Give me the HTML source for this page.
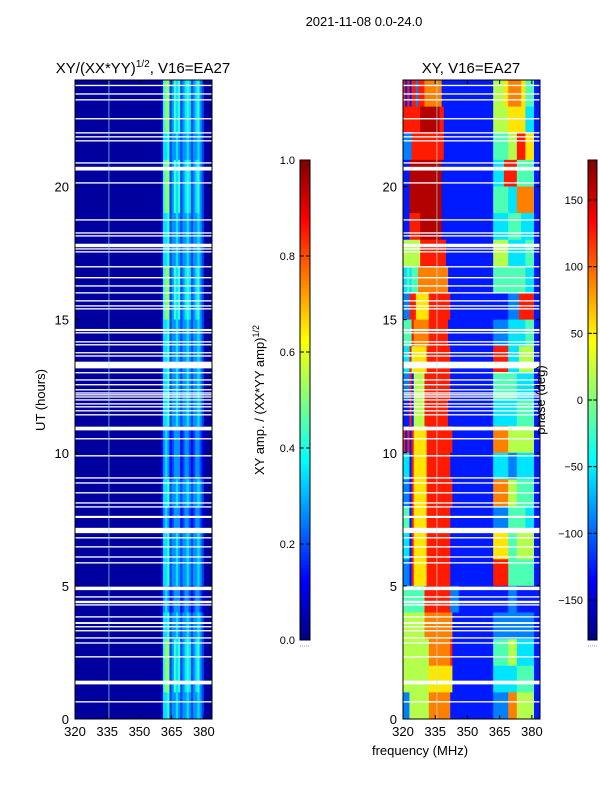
<!DOCTYPE html>
<html><head><meta charset="utf-8">
<style>
body{margin:0;background:#fff;}
svg{display:block;font-family:"Liberation Sans",sans-serif;}
</style></head>
<body>
<svg id="fig" width="600" height="800" viewBox="0 0 600 800" xmlns="http://www.w3.org/2000/svg">
<rect width="600" height="800" fill="#fff"/>
<text x="364" y="26" font-size="13" text-anchor="middle">2021-11-08 0.0-24.0</text>
<text x="143" y="73" font-size="15" text-anchor="middle">XY/(XX*YY)<tspan font-size="10" dy="-6">1/2</tspan><tspan dy="6">, V16=EA27</tspan></text>
<text x="471" y="73" font-size="15" text-anchor="middle">XY, V16=EA27</text>
<g id="leftMap"></g>
<g id="rightMap"></g>
<g id="axes"></g>
<text transform="translate(45,400) rotate(-90)" font-size="13" text-anchor="middle">UT (hours)</text>
<text x="420" y="755" font-size="13" text-anchor="middle">frequency (MHz)</text>
<text transform="translate(264,400) rotate(-90)" font-size="13" text-anchor="middle">XY amp. / (XX*YY amp)<tspan font-size="9" dy="-5">1/2</tspan></text>
<text transform="translate(545,400) rotate(-90)" font-size="13" text-anchor="middle">phase (deg)</text>
</svg>
<script>
// ---- data ----
const hours = [23,22,21,20,19,18,17,16,15,14,13,12,11,10,9,8,7,6,5,4,3,2,1,0];
const freqStart = 320;      // MHz, first 1-MHz channel
const freqEnd = 383.8;
const xTicks = [320,335,350,365,380];
const yTicks = [0,5,10,15,20];
const ampTicks = ["0.0","0.2","0.4","0.6","0.8","1.0"];
const phaseTicks = [-150,-100,-50,0,50,100,150];
// amplitude rows, digit d -> 0.03+0.08*d, one char per 1 MHz channel
const ampRows = [
"0000000000000000000000000000000000000000156623545234542345320000",
"0000000000000000000000000000000000000000156623545234542345320000",
"0000000000000000000000000000000000000000144523343233432334320000",
"0000000000000000000000000000000000000000156623545234542345320000",
"0000000000000000000000000000000000000000156623545234542345320000",
"0000000000000000000000000000000000000000144523343233432334320000",
"0000000000000000000000000000000000000000144523343233432334320000",
"0000000000000000000000000000000000000000156623545234542345320000",
"0000000000000000000000000000000000000000156623545234542345320000",
"0000000000000000000000000000000000000000144523343233432334320000",
"0000000000000000000000000000000000000000144523343233432334320000",
"0000000000000000000000000000000000000000144523343233432334320000",
"0000000000000000000000000000000000000000144523343233432334320000",
"0000000000000000000000000000000000000000134312333123321233210000",
"0000000000000000000000000000000000000000134312333123321233210000",
"0000000000000000000000000000000000000000144523343233432334320000",
"0000000000000000000000000000000000000000134312333123321233210000",
"0000000000000000000000000000000000000000144523343233432334320000",
"0000000000000000000000000000000000000000144523343233432334320000",
"0000000000000000000000000000000000000000134312333123321233210000",
"0000000000000000000000000000000000000000144523343233432334320000",
"0000000000000000000000000000000000000000156623545234542345320000",
"0000000000000000000000000000000000000000156623545234542345320000",
"0000000000000000000000000000000000000000144523343233432334320000"
];
// phase rows, digit d -> -162+36*d deg
const phaseRows = [
"81818828"+"887777"+"777711111111"+"1111111111111111"+"5555566"+"77777766"+"4444"+"111",
"88888888"+"999999"+"999881111111"+"1111111111111111"+"5555555"+"66666666"+"3333"+"111",
"22228888"+"888888"+"888881111111"+"1111111111111111"+"4444444"+"55558888"+"6666"+"111",
"11199999"+"999999"+"999911111111"+"1111111111111111"+"3333388"+"88884444"+"4444"+"111",
"11199999"+"999999"+"999911111111"+"1111111111111111"+"4444444"+"33337777"+"7777"+"111",
"11188888"+"999999"+"999911111111"+"1111111111111111"+"3333333"+"44444433"+"3333"+"111",
"55555555"+"888888"+"888888111111"+"1111111111111111"+"5555555"+"33333333"+"4444"+"111",
"33434447"+"777777"+"777777711111"+"1111111111111111"+"4444444"+"44444444"+"3333"+"111",
"22288866"+"666688"+"888888881111"+"1111111111111111"+"1111111"+"22222888"+"8888"+"111",
"44448777"+"777788"+"888888811111"+"1111111111111111"+"2222222"+"33333333"+"4444"+"111",
"33385666"+"666888"+"888888881111"+"1111111111111111"+"8888888"+"33333555"+"5555"+"111",
"22281555"+"558888"+"888888881111"+"1111111111111111"+"4444444"+"44443333"+"3333"+"111",
"11181555"+"558888"+"888888811111"+"1111111111111111"+"3333333"+"33334444"+"4444"+"111",
"81818666"+"666888"+"888888888111"+"1111111111111111"+"7777777"+"55555555"+"5555"+"111",
"33318666"+"666888"+"888888881111"+"1111111111111111"+"3333333"+"22223333"+"3333"+"111",
"22218666"+"666888"+"888888888111"+"1111111111111111"+"7777777"+"55554444"+"4444"+"111",
"44418666"+"666888"+"888888881111"+"1111111111111111"+"2222222"+"44444444"+"3333"+"111",
"33318666"+"666888"+"888888881111"+"1111111111111111"+"6666666"+"44445555"+"5555"+"111",
"22218666"+"666888"+"888888881111"+"1111111111111111"+"8888888"+"44444444"+"4444"+"111",
"44444444"+"448888"+"888888882222"+"1111111111111111"+"1111111"+"22221111"+"1111"+"111",
"55555555"+"557777"+"777777777111"+"1111111111111111"+"2222222"+"22222222"+"2222"+"111",
"55555555"+"555577"+"777777778111"+"1111111111111111"+"4444444"+"55553333"+"3333"+"111",
"55555555"+"555566"+"666666666111"+"1111111111111111"+"3333333"+"33334444"+"4444"+"111",
"22255555"+"555577"+"777777771111"+"1111111111111111"+"2222222"+"77775555"+"5555"+"111"
];
// flagged (blank) time ranges, hours [start, end]
const gaps = [
[23.77,23.82],[23.45,23.5],[23.23,23.28],[22.52,22.57],[21.99,22.04],[21.84,21.89],[21.69,21.74],
[20.86,20.91],[20.6,20.74],[20.11,20.16],[18.72,18.77],[18.23,18.28],[18.12,18.17],[17.72,17.85],
[17.63,17.68],[17.52,17.57],[16.96,17.01],[16.55,16.6],[16.24,16.29],[15.98,16.03],[15.68,15.73],
[15.49,15.54],[15.38,15.43],[14.57,14.65],[14.48,14.53],[14.14,14.19],[14.03,14.08],[13.73,13.78],
[13.61,13.66],[13.17,13.42],[12.98,13.03],[12.71,12.76],[12.53,12.58],[12.34,12.39],[12.22,12.27],
[12.07,12.12],[12.15,12.2],[11.96,12.01],[11.81,11.86],[11.7,11.75],[11.55,11.6],[11.4,11.45],
[10.84,10.98],[10.5,10.55],[9.86,9.91],[9.03,9.08],[8.84,8.89],[8.47,8.52],[8.09,8.14],[7.94,7.99],
[7.55,7.63],[6.98,7.18],[6.78,6.83],[6.44,6.49],[6.06,6.11],[5.84,5.89],[4.84,4.97],[4.56,4.61],
[4.35,4.44],[4.26,4.31],[3.81,3.86],[3.57,3.64],[3.44,3.49],[3.29,3.34],[3.02,3.07],[2.83,2.88],
[2.31,2.36],[1.3,1.44],[0.62,0.67]
];

// ---- scales ----
const Y0=719, Y1=80, HMAX=24;
function yScale(h){ return Y0-(h/HMAX)*(Y0-Y1); }
function makeX(left,right){ return f => left+(f-freqStart)/(freqEnd-freqStart)*(right-left); }
const xL = makeX(75,212), xR = makeX(403,540);
function clamp(v){ return Math.max(0,Math.min(1,v)); }
function jet(v){
  const r=clamp(1.5-Math.abs(4*v-3)), g=clamp(1.5-Math.abs(4*v-2)), b=clamp(1.5-Math.abs(4*v-1));
  return `rgb(${Math.round(r*255)},${Math.round(g*255)},${Math.round(b*255)})`;
}
const NS="http://www.w3.org/2000/svg";
function el(tag,attrs,parent){ const e=document.createElementNS(NS,tag); for(const k in attrs) e.setAttribute(k,attrs[k]); parent.appendChild(e); return e; }

function drawMap(g, rows, xs, toV, left, right, nameCell){
  rows.forEach((row,ri)=>{
    const h=hours[ri];
    const yt=yScale(h+1), yb=yScale(h);
    for(let c=0;c<row.length;c++){
      const f0=freqStart+c, f1=Math.min(freqStart+c+1,freqEnd);
      if(f0>=freqEnd) break;
      const x0=xs(f0), x1=xs(f1);
      const r=el('rect',{x:x0.toFixed(2),y:yt.toFixed(2),width:(x1-x0+0.4).toFixed(2),height:(yb-yt+0.4).toFixed(2),fill:jet(toV(+row[c]))},g);
      
      
    }
  });
  gaps.forEach(gp=>{
    const r=el('rect',{x:left,y:yScale(gp[1]),width:right-left,height:Math.max(1,yScale(gp[0])-yScale(gp[1])),fill:'#fff'},g);
    
    
  });
  const gl=el('line',{x1:xs(335.8),x2:xs(335.8),y1:Y1,y2:Y0,stroke:'#9ee',"stroke-width":0.8,opacity:0.8},g);
  
  
}
drawMap(document.getElementById('leftMap'), ampRows, xL, d=>0.03+0.08*d, 75,212,'amplitude-cell');
drawMap(document.getElementById('rightMap'), phaseRows, xR, d=>(18+36*d)/360, 403,540,'phase-cell');

const ax=document.getElementById('axes');
function panel(left,right,xs,name){
  const fr=el('rect',{x:left,y:Y1,width:right-left,height:Y0-Y1,fill:'none',stroke:'#000','stroke-width':1},ax);
  
  
  xTicks.forEach(t=>{
    const x=xs(t);
    el('line',{x1:x,x2:x,y1:Y0,y2:Y0-4,stroke:'#000'},ax);
    el('line',{x1:x,x2:x,y1:Y1,y2:Y1+4,stroke:'#000'},ax);
    const tx=el('text',{x:x,y:736,'font-size':13,'text-anchor':'middle'},ax);
    tx.textContent=t;
    
    
  });
  yTicks.forEach(t=>{
    const y=yScale(t);
    el('line',{x1:left,x2:left+4,y1:y,y2:y,stroke:'#000'},ax);
    el('line',{x1:right,x2:right-4,y1:y,y2:y,stroke:'#000'},ax);
    const tx=el('text',{x:left-6,y:y+5,'font-size':13,'text-anchor':'end'},ax);
    tx.textContent=t;
    
    
  });
}
panel(75,212,xL,'amplitude-panel');
panel(403,540,xR,'phase-panel');

function colorbar(x,w,labels,vals,vmin,vmax,name){
  const cb=el('g',{},ax);
  
  
  const top=160,bot=640,n=120;
  for(let i=0;i<n;i++){
    const v=(i+0.5)/n;
    el('rect',{x:x,y:bot-(i+1)*(bot-top)/n,width:w,height:(bot-top)/n+0.5,fill:jet(v)},cb);
  }
  el('rect',{x:x,y:top,width:w,height:bot-top,fill:'none',stroke:'#000'},cb);
  vals.forEach((val,i)=>{
    const y=bot-(val-vmin)/(vmax-vmin)*(bot-top);
    el('line',{x1:x,x2:x+4,y1:y,y2:y,stroke:'#000'},cb);
    el('line',{x1:x+w,x2:x+w-4,y1:y,y2:y,stroke:'#000'},cb);
    const t=el('text',{x:x-5,y:y+4,'font-size':11,'text-anchor':'end'},cb);
    t.textContent=labels[i];
    
    
  });
  el('line',{x1:x,x2:x+w,y1:646,y2:646,stroke:'#999','stroke-dasharray':'1 1'},cb);
}
colorbar(300,10,ampTicks,[0,0.2,0.4,0.6,0.8,1.0],0,1,'amplitude-colorbar');
colorbar(588,9,phaseTicks.map(v=>v<0?'\u2212'+(-v):String(v)),phaseTicks,-180,180,'phase-colorbar');
</script>
</body></html>
